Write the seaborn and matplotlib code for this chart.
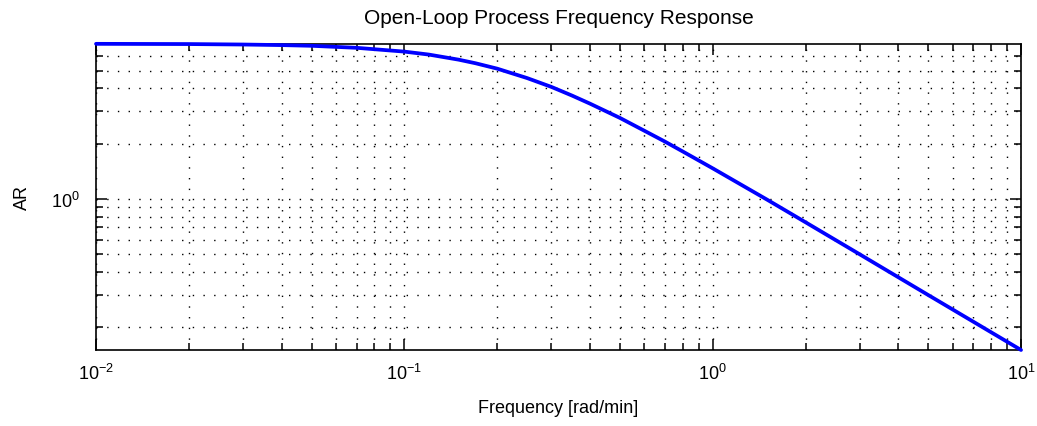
import numpy as np
import pandas as pd
import matplotlib
matplotlib.use("Agg")
import matplotlib.pyplot as plt
import seaborn as sns
from matplotlib.ticker import LogLocator, FixedLocator, NullFormatter, FuncFormatter

# Amplitude ratio of the open-loop process, read at selected frequencies
freq_rad_min = [0.01, 0.02, 0.03, 0.04, 0.05, 0.07, 0.1, 0.12, 0.15, 0.17,
                0.2, 0.25, 0.3, 0.35, 0.4, 0.5, 0.6, 0.7, 0.8, 1.0,
                1.5, 2.0, 3.0, 5.0, 7.0, 10.0]
amplitude_ratio = [6.99, 6.97, 6.93, 6.88, 6.82, 6.65, 6.34, 6.11, 5.73, 5.48,
                   5.12, 4.55, 4.07, 3.65, 3.30, 2.76, 2.35, 2.05, 1.81, 1.466,
                   0.99, 0.745, 0.498, 0.299, 0.214, 0.150]

x_major_ticks = [0.01, 0.1, 1.0, 10.0]
y_major_ticks = [1.0]

title_text = "Open-Loop Process Frequency Response"
x_label = "Frequency [rad/min]"
y_label = "AR"

df = pd.DataFrame({"freq": freq_rad_min, "ar": amplitude_ratio})

sns.set_theme(style="white")
plt.rcParams["font.family"] = ["Liberation Sans", "DejaVu Sans"]
plt.rcParams["mathtext.fontset"] = "custom"
plt.rcParams["mathtext.rm"] = "Liberation Sans"
plt.rcParams["mathtext.default"] = "regular"

fig = plt.figure(figsize=(10.37, 4.27), dpi=100)
ax = fig.add_axes([0.0926, 0.178, 0.892, 0.717])

sns.lineplot(data=df, x="freq", y="ar", ax=ax, color="#0000ff",
             linewidth=2.7, clip_on=False, zorder=3)

ax.set_xscale("log")
ax.set_yscale("log")
ax.set_xlim(min(freq_rad_min), max(freq_rad_min))
ax.set_ylim(min(amplitude_ratio), max(amplitude_ratio))

ax.xaxis.set_major_locator(FixedLocator(x_major_ticks))
ax.xaxis.set_minor_locator(LogLocator(base=10, subs=np.arange(2, 10)))
ax.yaxis.set_major_locator(FixedLocator(y_major_ticks))
ax.yaxis.set_minor_locator(LogLocator(base=10, subs=np.arange(2, 10)))
ax.xaxis.set_minor_formatter(NullFormatter())
ax.yaxis.set_minor_formatter(NullFormatter())

def pow10(v, pos):
    e = int(round(np.log10(v)))
    return "10$^{%d}$" % e

ax.xaxis.set_major_formatter(FuncFormatter(pow10))
ax.yaxis.set_major_formatter(FuncFormatter(pow10))

ax.grid(True, which="both", color="black", linestyle=(0, (1, 6.7)), linewidth=1.0)

ax.tick_params(which="major", length=8)
ax.tick_params(which="minor", length=5)
ax.tick_params(which="both", direction="in", top=True, right=True,
               bottom=True, left=True, width=1.1, color="black",
               labelsize=13, labelcolor="black")
ax.tick_params(axis="x", which="both", pad=9)
ax.tick_params(axis="y", which="both", pad=12)
for s in ax.spines.values():
    s.set_color("black")
    s.set_linewidth(1.2)

ax.set_title(title_text, fontsize=15, color="black", pad=15)
ax.set_xlabel(x_label, fontsize=13, color="black", labelpad=12)
ax.set_ylabel(y_label, fontsize=13, color="black", labelpad=14)

fig.savefig("out.png", dpi=100, facecolor="white")
